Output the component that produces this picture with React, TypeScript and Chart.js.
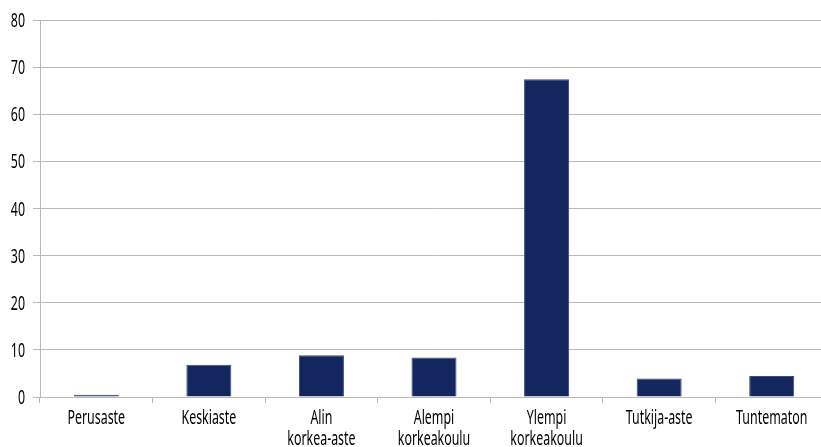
import React, { useEffect, useRef } from "react";
import { Chart, registerables } from "chart.js";

Chart.register(...registerables);

// Koulutustaso (education level) categories and their shares
const categories: (string | string[])[] = [
  "Perusaste",
  "Keskiaste",
  ["Alin", "korkea-aste"],
  ["Alempi", "korkeakoulu"],
  ["Ylempi", "korkeakoulu"],
  "Tutkija-aste",
  "Tuntematon",
];
const values: number[] = [0.5, 6.85, 8.85, 8.4, 67.45, 3.9, 4.45];

const yMin = 0;
const yMax = 80;
const yStep = 10;

const FONT_FAMILY = "'Noto Sans', 'DejaVu Sans', sans-serif";
const FONT_SIZE = 20;
const TEXT_SCALE_X = 0.62; // narrow, condensed-looking labels
const GRID = "#bcb8b4";
const BAR = "#13265e";

// Draws the axis labels with a horizontally condensed face.
const condensedLabels = {
  id: "condensedLabels",
  afterDraw(chart: any) {
    const ctx: CanvasRenderingContext2D = chart.ctx;
    const xs = chart.scales.x;
    const ys = chart.scales.y;
    ctx.save();
    ctx.fillStyle = "#000000";
    ctx.font = `${FONT_SIZE}px ${FONT_FAMILY}`;
    ctx.textBaseline = "alphabetic";

    const labels = chart.data.labels as (string | string[])[];
    labels.forEach((lab, i) => {
      const px = xs.getPixelForTick(i);
      const lines = Array.isArray(lab) ? lab : [lab];
      lines.forEach((line, j) => {
        ctx.save();
        ctx.translate(px, xs.top + 27 + j * 21);
        ctx.scale(TEXT_SCALE_X, 1);
        ctx.textAlign = "center";
        ctx.fillText(line, 0, 0);
        ctx.restore();
      });
    });

    ys.ticks.forEach((t: any) => {
      const py = ys.getPixelForValue(t.value);
      ctx.save();
      ctx.translate(ys.right - 15, py + 7);
      ctx.scale(TEXT_SCALE_X, 1);
      ctx.textAlign = "right";
      ctx.fillText(String(t.value), 0, 0);
      ctx.restore();
    });
    ctx.restore();
  },
};

export default function App() {
  const ref = useRef<HTMLCanvasElement | null>(null);

  useEffect(() => {
    if (!ref.current) return;
    const chart = new Chart(ref.current, {
      type: "bar",
      data: {
        labels: categories,
        datasets: [
          {
            data: values,
            backgroundColor: BAR,
            borderColor: "#3a4a7c",
            borderWidth: 1,
            barPercentage: 0.4,
            categoryPercentage: 1,
          },
        ],
      },
      options: {
        responsive: false,
        animation: false,
        layout: { padding: { top: 20, right: 2, left: 0, bottom: 0 } },
        plugins: {
          legend: { display: false },
          tooltip: { enabled: false },
        },
        scales: {
          x: {
            offset: true,
            grid: {
              offset: true,
              drawOnChartArea: false,
              drawTicks: true,
              tickLength: 6,
              color: GRID,
              lineWidth: 1,
            },
            border: { color: GRID, width: 1 },
            ticks: { display: false, autoSkip: false, maxRotation: 0 },
            afterFit: (scale: any) => {
              scale.height = 50;
            },
          },
          y: {
            min: yMin,
            max: yMax,
            ticks: { display: false, stepSize: yStep },
            grid: {
              color: GRID,
              lineWidth: 1,
              tickLength: 7,
            },
            border: { color: GRID, width: 1 },
            afterFit: (scale: any) => {
              scale.width = 40;
            },
          },
        },
      },
      plugins: [condensedLabels],
    });
    return () => chart.destroy();
  }, []);

  return (
    <div
      style={{
        position: "absolute",
        left: 0,
        top: 0,
        width: 821,
        height: 447,
        overflow: "hidden",
        background: "#ffffff",
      }}
    >
      <canvas ref={ref} width={830} height={447} style={{ display: "block" }} />
    </div>
  );
}
